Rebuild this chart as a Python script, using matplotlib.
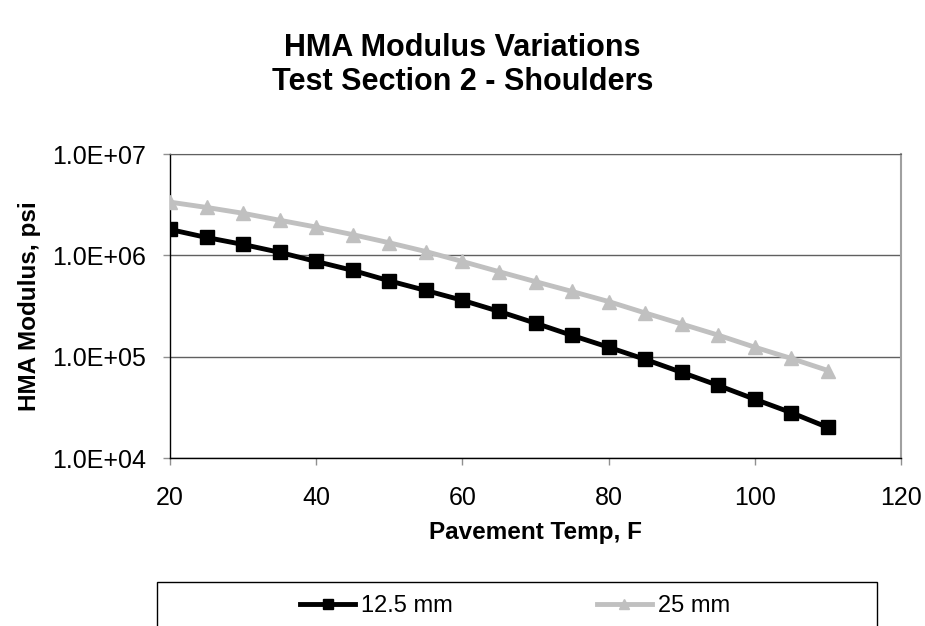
import matplotlib
matplotlib.use("Agg")
import matplotlib.pyplot as plt
from matplotlib.patches import Rectangle
from matplotlib.ticker import FixedLocator, FixedFormatter, NullLocator

plt.rcParams['font.family'] = ['Liberation Sans', 'DejaVu Sans']

temps = [20, 25, 30, 35, 40, 45, 50, 55, 60, 65, 70, 75, 80, 85, 90, 95, 100, 105, 110]
mod_125 = [1.80e6, 1.50e6, 1.28e6, 1.07e6, 8.7e5, 7.1e5, 5.6e5, 4.5e5, 3.6e5, 2.8e5,
           2.14e5, 1.62e5, 1.24e5, 9.4e4, 7.0e4, 5.2e4, 3.8e4, 2.8e4, 2.0e4]
mod_25 = [3.35e6, 2.97e6, 2.60e6, 2.22e6, 1.90e6, 1.60e6, 1.33e6, 1.09e6, 8.7e5, 6.9e5,
          5.5e5, 4.4e5, 3.5e5, 2.7e5, 2.1e5, 1.63e5, 1.24e5, 9.6e4, 7.3e4]
y_ticks = [1e4, 1e5, 1e6, 1e7]
y_tick_labels = ["1.0E+04", "1.0E+05", "1.0E+06", "1.0E+07"]
x_ticks = [20, 40, 60, 80, 100, 120]

fig = plt.figure(figsize=(9.25, 6.26), dpi=100)
ax = fig.add_axes([170/925, 1-458/626, (901-170)/925, (458-154)/626])

ax.plot(temps, mod_125, color='black', lw=3.5, marker='s', ms=10, label='12.5 mm', zorder=4)
ax.plot(temps, mod_25, color='#C0C0C0', lw=3.5, marker='^', ms=10, label='25 mm', zorder=3)

ax.set_yscale('log')
ax.set_ylim(1e4, 1e7)
ax.set_xlim(20, 120)
ax.yaxis.set_major_locator(FixedLocator(y_ticks))
ax.yaxis.set_major_formatter(FixedFormatter(y_tick_labels))
ax.yaxis.set_minor_locator(NullLocator())
ax.set_xticks(x_ticks)

ax.grid(axis='y', color='#606060', lw=1.0)
ax.set_axisbelow(True)
for s in ['left', 'bottom']:
    ax.spines[s].set_color('black')
    ax.spines[s].set_linewidth(1.0)
ax.spines['top'].set_color('#606060')
ax.spines['right'].set_color('#A0A0A0')
ax.spines['right'].set_linewidth(1.5)
ax.tick_params(axis='both', labelsize=18, color='#909090', length=5, width=1)
ax.tick_params(axis='x', pad=15)
ax.tick_params(axis='y', pad=12.5)

ax.set_xlabel('Pavement Temp, F', fontsize=17.5, fontweight='bold', labelpad=8)
ax.set_ylabel('HMA Modulus, psi', fontsize=17.5, fontweight='bold', labelpad=8)

fig.text(0.5, 1-65/626, 'HMA Modulus Variations\nTest Section 2 - Shoulders',
         ha='center', va='center', fontsize=22, fontweight='bold', linespacing=1.2)

rect = Rectangle((157/925, -0.05), 720/925, 0.05 + 44/626, transform=fig.transFigure,
                 fill=False, edgecolor='black', lw=1.0, clip_on=False)
fig.patches.append(rect)

h, l = ax.get_legend_handles_labels()
leg = fig.legend(h, l, loc='center', bbox_to_anchor=(515/925, 1-606/626), ncol=2,
                 frameon=False, fontsize=17, handlelength=2.33, handletextpad=0.25,
                 columnspacing=6.1, markerscale=0.7, borderpad=0)

fig.savefig('out.png', dpi=100)
